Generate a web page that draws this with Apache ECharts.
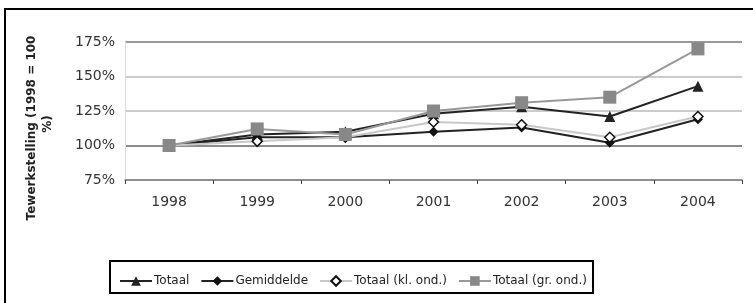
<!DOCTYPE html>
<html><head><meta charset="utf-8">
<script src="https://cdn.jsdelivr.net/npm/echarts@6/dist/echarts.min.js"></script>
<style>html,body{margin:0;padding:0;background:#fff}#c{width:753px;height:303px}</style>
</head><body><div id="c"></div>
<script>
const years = ['1998','1999','2000','2001','2002','2003','2004'];
const yTicks = [75, 100, 125, 150, 175];
const totaal = [100, 108, 110, 123, 128, 121, 143];
const gemiddelde = [100, 106, 106, 110, 113, 102, 119];
const totaalKl = [100, 103, 106, 117, 115, 106, 121];
const totaalGr = [100, 112, 108, 125, 131, 135, 170];
const names = ['Totaal', 'Gemiddelde', 'Totaal (kl. ond.)', 'Totaal (gr. ond.)'];

const font = 'DejaVu Sans, Verdana, sans-serif';
const chart = echarts.init(document.getElementById('c'), null, {renderer: 'canvas'});
chart.setOption({
  animation: false,
  textStyle: {fontFamily: font},
  graphic: [
    {type: 'rect', shape: {x: 5, y: 9, width: 800, height: 400}, style: {fill: 'none', stroke: '#000', lineWidth: 2}, z: -1},
    {type: 'rect', shape: {x: 110, y: 261, width: 483, height: 32}, style: {fill: 'none', stroke: '#000', lineWidth: 2}},
    {type: 'text', x: 32, y: 128, rotation: Math.PI / 2, style: {text: 'Tewerkstelling (1998 = 100', font: 'bold 12px ' + font, fill: '#222', align: 'center', verticalAlign: 'middle'}},
    {type: 'text', x: 48, y: 124, rotation: Math.PI / 2, style: {text: '%)', font: 'bold 12px ' + font, fill: '#222', align: 'center', verticalAlign: 'middle'}}
  ],
  grid: {left: 125, right: 11, top: 42, bottom: 123},
  legend: {
    data: names, left: 114, top: 270, itemGap: 11, itemWidth: 32, itemHeight: 12,
    textStyle: {fontSize: 12, color: '#222', fontFamily: font, padding: [0, 0, 0, -3]}
  },
  xAxis: {
    type: 'category', data: years, boundaryGap: true,
    axisLine: {lineStyle: {color: '#888', width: 1.5}},
    axisTick: {show: true, length: 4, lineStyle: {color: '#444'}},
    axisLabel: {fontSize: 14, color: '#333', margin: 15}
  },
  yAxis: {
    type: 'value', min: 75, max: 175, interval: 25,
    axisLine: {show: true, lineStyle: {color: '#ddd'}},
    axisTick: {show: false},
    axisLabel: {fontSize: 14, color: '#333', margin: 10, formatter: '{value}%'},
    splitLine: {lineStyle: {color: ['#888', '#666', '#bbb', '#bbb', '#777'], width: 1.5}}
  },
  series: [
    {name: names[0], type: 'line', data: totaal, symbol: 'triangle', symbolSize: 11,
     lineStyle: {color: '#222', width: 2}, itemStyle: {color: '#222'}},
    {name: names[1], type: 'line', data: gemiddelde, symbol: 'diamond', symbolSize: 10,
     lineStyle: {color: '#222', width: 2}, itemStyle: {color: '#111'}},
    {name: names[2], type: 'line', data: totaalKl, symbol: 'diamond', symbolSize: 10,
     lineStyle: {color: '#c8c8c8', width: 2}, itemStyle: {color: '#fff', borderColor: '#111', borderWidth: 1.5}},
    {name: names[3], type: 'line', data: totaalGr, symbol: 'rect', symbolSize: 13,
     lineStyle: {color: '#999', width: 2}, itemStyle: {color: '#888'}}
  ]
});
</script></body></html>
